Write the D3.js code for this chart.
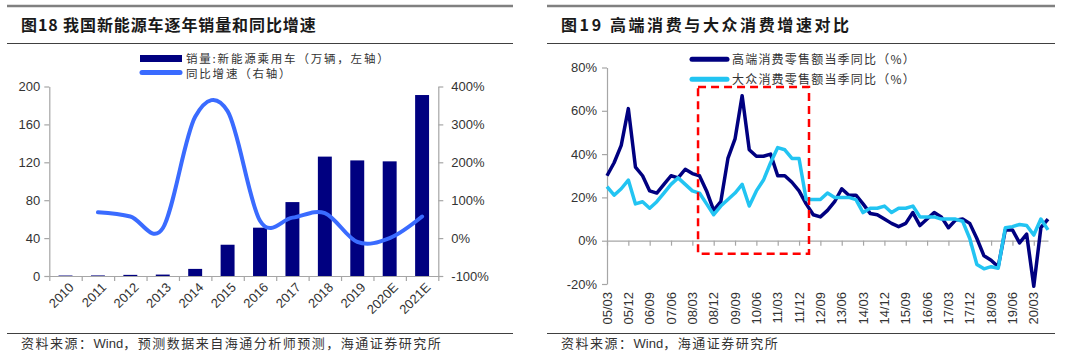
<!DOCTYPE html>
<html>
<head>
<meta charset="utf-8">
<script src="https://cdn.jsdelivr.net/npm/d3@7"></script>
<style>
    body { margin: 0; background: #fff; }
    text { font-family: 'Liberation Sans', Arial, 'Noto Sans CJK SC', sans-serif; }
    .cn { font-family: 'Noto Sans CJK SC', sans-serif; }
</style>
</head>
<body>
<script>
// 图18 data
const years = ['2010', '2011', '2012', '2013', '2014', '2015', '2016', '2017', '2018', '2019', '2020E', '2021E']
const sales = [0.5, 0.6, 1.2, 1.5, 7.5, 33, 51, 78, 126, 122, 121, 191]
const growth = [null, 68, 57, 26, 320, 335, 46, 54, 66, -10, 0, 57]
const leftTicks = [0, 40, 80, 120, 160, 200]
const rightTicks = [-100, 0, 100, 200, 300, 400]

// 图19 data, quarterly 05/03 .. 20/09
const quarterLabels = ['05/03', '05/12', '06/09', '07/06', '08/03', '08/12', '09/09', '10/06', '11/03', '11/12',
    '12/09', '13/06', '14/03', '14/12', '15/09', '16/06', '17/03', '17/12', '18/09', '19/06', '20/03']
const highEnd = [30, 36, 44, 61, 34, 30, 23, 22, 26, 30, 29, 33, 31, 30, 23, 14, 18, 38, 47, 67,
    42, 39, 39, 40, 30, 30, 27, 23, 17, 12, 11, 14, 18, 24, 21, 21, 17, 12.6, 12, 10,
    8, 6.5, 8, 13, 7, 10, 13, 11, 6, 9.5, 10, 8, 1, -7, -9, -12, 5, 5, -1, 3,
    -21, 6, 10]
const massMarket = [25, 21, 24, 28, 17, 18, 15, 18, 22, 26, 29, 26, 23, 22, 17, 12, 16, 19, 22, 26,
    16, 23, 28, 36, 43, 42, 38, 38, 19, 19, 19, 22, 20, 20, 20, 19, 13, 15, 15, 16,
    13, 15, 15, 16, 11, 11, 11, 10, 10, 10, 9, 1, -11, -13, -12, -12.7, 6, 6.5, 7.5, 7,
    2.6, 10, 5]
const pctTicks = [-20, 0, 20, 40, 60, 80]
// dashed highlight box (quarter index / percent)
const boxFrom = 12.8, boxTo = 28.4, boxTop = 71, boxBottom = -6

const navy = '#000080'
const blue = '#3a6bff'
const cyan = '#22c4f2'
const axisGray = '#a6a6a6'
const textColor = '#333'

const svg = d3.select('body').append('svg')
    .attr('width', 1080)
    .attr('height', 363)

// panel frames
;[[7, 513], [547, 1055]].forEach(([x0, x1]) => {
    svg.append('line').attr('x1', x0).attr('x2', x1).attr('y1', 6).attr('y2', 6)
        .style('stroke', '#808080').style('stroke-width', 2.5)
    svg.append('line').attr('x1', x0).attr('x2', x1).attr('y1', 43.5).attr('y2', 43.5)
        .style('stroke', '#404040').style('stroke-width', 1)
    svg.append('line').attr('x1', x0).attr('x2', x1).attr('y1', 333.5).attr('y2', 333.5)
        .style('stroke', '#404040').style('stroke-width', 1)
})

svg.append('text').attr('class', 'cn')
    .attr('x', 21).attr('y', 31)
    .style('font-size', '16px').style('font-weight', 'bold').style('fill', '#1a1a1a')
    .style('letter-spacing', '0.9px')
    .text('图18 我国新能源车逐年销量和同比增速')
svg.append('text').attr('class', 'cn')
    .attr('x', 561).attr('y', 31)
    .style('font-size', '16px').style('font-weight', 'bold').style('fill', '#1a1a1a')
    .style('letter-spacing', '2.6px')
    .text('图19 高端消费与大众消费增速对比')

// footnotes: CJK spaced, "Wind" kept tight
function footnote(x, before, after) {
    const t = svg.append('text').attr('class', 'cn')
        .attr('x', x).attr('y', 348)
        .style('font-size', '13px').style('fill', textColor)
    t.append('tspan').style('letter-spacing', '1.5px').text(before)
    t.append('tspan').style('font-family', "'Liberation Sans', Arial, sans-serif").text('Wind')
    t.append('tspan').style('letter-spacing', '1.5px').text(after)
}
footnote(21, '资料来源：', '，预测数据来自海通分析师预测，海通证券研究所')
footnote(561, '资料来源：', '，海通证券研究所')

// ---------- left chart ----------
const L = { left: 49.3, right: 438.3, top: 86.5, bottom: 276 }

const xBand = d3.scaleBand()
    .domain(years)
    .range([L.left, L.right])
    .paddingInner(0.57)
    .paddingOuter(0.285)
const xEdge = d3.scaleLinear().domain([0, years.length]).range([L.left, L.right])
const yLeft = d3.scaleLinear().domain([0, 200]).range([L.bottom, L.top])
const yRight = d3.scaleLinear().domain([-100, 400]).range([L.bottom, L.top])

function styleAxis(g) {
    g.select('.domain').style('stroke', axisGray).style('stroke-width', 1.2)
    g.selectAll('.tick line').style('stroke', axisGray).style('stroke-width', 1.2)
    g.selectAll('.tick text').style('fill', textColor).style('font-size', '13px')
        .style('font-family', "'Liberation Sans', Arial, sans-serif")
}

svg.append('g')
    .attr('transform', `translate(${L.left}, 0)`)
    .call(d3.axisLeft(yLeft).tickValues(leftTicks).tickSize(5).tickSizeOuter(0).tickPadding(4))
    .call(styleAxis)

svg.append('g')
    .attr('transform', `translate(${L.right}, 0)`)
    .call(d3.axisRight(yRight).tickValues(rightTicks).tickSize(5).tickSizeOuter(0).tickPadding(8)
        .tickFormat(d => d + '%'))
    .call(styleAxis)

svg.selectAll('.bar')
    .data(years)
    .enter().append('rect')
    .attr('class', 'bar')
    .attr('x', d => xBand(d))
    .attr('width', xBand.bandwidth())
    .attr('y', (d, i) => yLeft(sales[i]))
    .attr('height', (d, i) => L.bottom - yLeft(sales[i]))
    .style('fill', navy)

svg.append('g')
    .attr('transform', `translate(0, ${L.bottom})`)
    .call(d3.axisBottom(xEdge).tickValues(d3.range(years.length + 1)).tickSize(5).tickSizeOuter(0).tickFormat(''))
    .call(styleAxis)

svg.selectAll('.year')
    .data(years)
    .enter().append('text')
    .attr('class', 'year')
    .attr('transform', d => `translate(${xBand(d) + xBand.bandwidth() / 2 + 6}, 285) rotate(-45)`)
    .attr('dy', '0.35em')
    .style('text-anchor', 'end')
    .style('font-size', '13px')
    .style('fill', textColor)
    .text(d => d)

const growthPts = years.map((d, i) => [xBand(d) + xBand.bandwidth() / 2, growth[i]])
    .filter(p => p[1] !== null)
svg.append('path')
    .datum(growthPts)
    .attr('d', d3.line().x(d => d[0]).y(d => yRight(d[1])).curve(d3.curveCatmullRom.alpha(0)))
    .style('fill', 'none')
    .style('stroke', blue)
    .style('stroke-width', 4)
    .style('stroke-linecap', 'round')

// left legend
svg.append('rect').attr('x', 140).attr('y', 55).attr('width', 42).attr('height', 7).style('fill', navy)
svg.append('line').attr('x1', 142).attr('x2', 180).attr('y1', 72.5).attr('y2', 72.5)
    .style('stroke', blue).style('stroke-width', 5).style('stroke-linecap', 'round')
svg.append('text').attr('class', 'cn').attr('x', 186).attr('y', 58.5).attr('dy', '0.35em')
    .style('font-size', '11.5px').style('fill', textColor).style('letter-spacing', '1.8px')
    .text('销量:新能源乘用车（万辆，左轴）')
svg.append('text').attr('class', 'cn').attr('x', 186).attr('y', 73.5).attr('dy', '0.35em')
    .style('font-size', '11.5px').style('fill', textColor).style('letter-spacing', '1.8px')
    .text('同比增速（右轴）')

// ---------- right chart ----------
const R = { left: 607, right: 1048, top: 67.5, bottom: 284 }
const xQ = d3.scaleLinear().domain([0, highEnd.length - 1]).range([R.left, R.right])
const yPct = d3.scaleLinear().domain([-20, 80]).range([R.bottom, R.top])

svg.append('g')
    .attr('transform', `translate(${R.left}, 0)`)
    .call(d3.axisLeft(yPct).tickValues(pctTicks).tickSize(5).tickSizeOuter(0).tickPadding(5)
        .tickFormat(d => d + '%'))
    .call(styleAxis)

svg.append('g')
    .attr('transform', `translate(0, ${yPct(0)})`)
    .call(d3.axisBottom(xQ).tickValues(d3.range(0, highEnd.length, 3)).tickSize(5).tickSizeOuter(0).tickFormat(''))
    .call(styleAxis)

svg.selectAll('.qlabel')
    .data(quarterLabels)
    .enter().append('text')
    .attr('class', 'qlabel')
    .attr('transform', (d, i) => `translate(${xQ(i * 3)}, 292) rotate(-90)`)
    .attr('dy', '0.35em')
    .style('text-anchor', 'end')
    .style('font-size', '13px')
    .style('fill', textColor)
    .text(d => d)

const qLine = d3.line().x((d, i) => xQ(i)).y(d => yPct(d))

svg.append('path')
    .datum(highEnd)
    .attr('d', qLine)
    .style('fill', 'none')
    .style('stroke', navy)
    .style('stroke-width', 3.5)
    .style('stroke-linejoin', 'round')

svg.append('path')
    .datum(massMarket)
    .attr('d', qLine)
    .style('fill', 'none')
    .style('stroke', cyan)
    .style('stroke-width', 3.5)
    .style('stroke-linejoin', 'round')

svg.append('rect')
    .attr('x', xQ(boxFrom))
    .attr('y', yPct(boxTop))
    .attr('width', xQ(boxTo) - xQ(boxFrom))
    .attr('height', yPct(boxBottom) - yPct(boxTop))
    .style('fill', 'none')
    .style('stroke', '#ff0000')
    .style('stroke-width', 2.5)
    .style('stroke-dasharray', '8,5')

// right legend
;[[navy, 59.3, '高端消费零售额当季同比（%）'], [cyan, 79.3, '大众消费零售额当季同比（%）']].forEach(([c, y, t]) => {
    svg.append('line').attr('x1', 692).attr('x2', 727).attr('y1', y).attr('y2', y)
        .style('stroke', c).style('stroke-width', 5).style('stroke-linecap', 'round')
    svg.append('text').attr('class', 'cn').attr('x', 732).attr('y', y).attr('dy', '0.35em')
        .style('font-size', '12px').style('fill', textColor).style('letter-spacing', '1.2px')
        .text(t)
})
</script>
</body>
</html>
